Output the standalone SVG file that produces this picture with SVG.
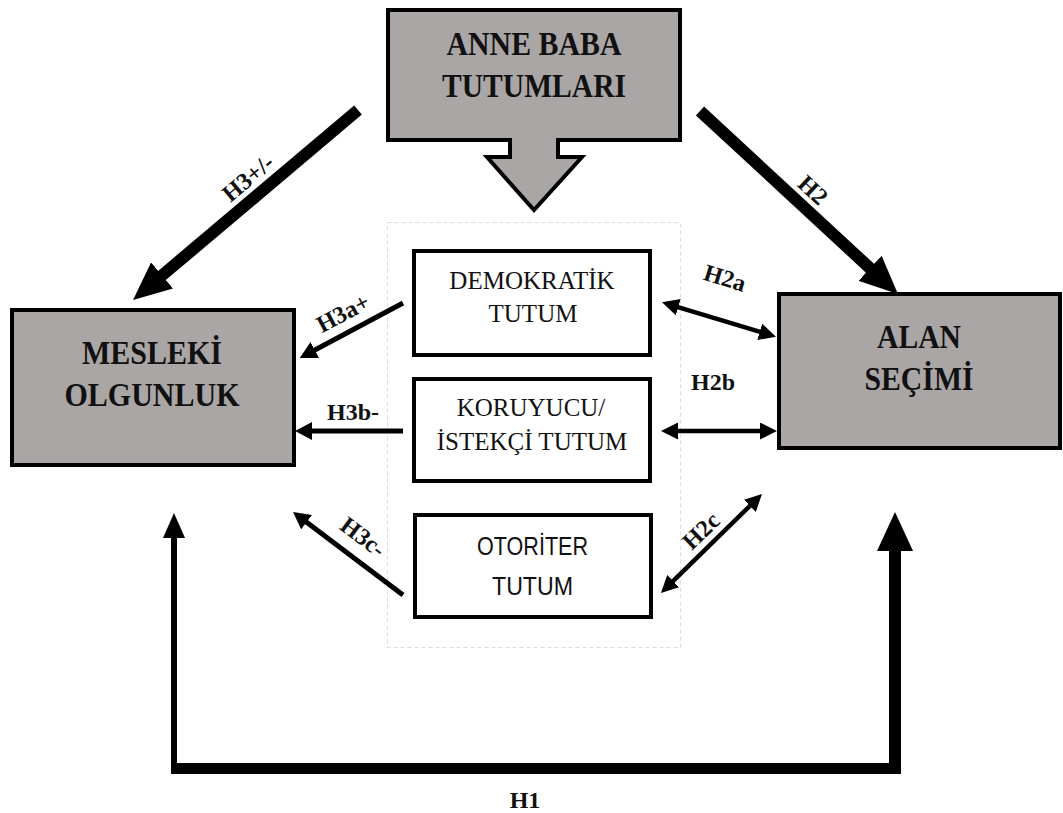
<svg xmlns="http://www.w3.org/2000/svg" width="1063" height="813" viewBox="0 0 1063 813">
<defs>
<style>
.main{fill:#a9a6a5;stroke:#000;stroke-width:4}
.sub{fill:#fff;stroke:#000;stroke-width:4}
.tb{font-family:"Liberation Serif","Times New Roman",serif;font-weight:bold;font-size:33px;fill:#111;text-anchor:middle}
.tr{font-family:"Liberation Serif","Times New Roman",serif;font-size:25px;fill:#111;text-anchor:middle}
.ts{font-family:"Liberation Sans",Arial,sans-serif;font-size:26px;fill:#111;text-anchor:middle}
.lb{font-family:"Liberation Serif","Times New Roman",serif;font-weight:bold;font-size:24px;fill:#111;text-anchor:middle}
.thick{stroke:#000;stroke-width:12;fill:none}
.med{stroke:#000;stroke-width:5;fill:none}
.dbl{stroke:#000;stroke-width:4.5;fill:none}
</style>
<marker id="hBig" markerUnits="userSpaceOnUse" viewBox="0 0 38 34" markerWidth="38" markerHeight="34" refX="4" refY="17" orient="auto"><path d="M0,0 L38,17 L0,34 z" fill="#000"/></marker>
<marker id="hMed" markerUnits="userSpaceOnUse" viewBox="0 0 17 18" markerWidth="17" markerHeight="18" refX="2" refY="9" orient="auto"><path d="M0,0 L17,9 L0,18 z" fill="#000"/></marker>
<marker id="hDbl" markerUnits="userSpaceOnUse" viewBox="0 0 17 17" markerWidth="17" markerHeight="17" refX="3" refY="8.5" orient="auto-start-reverse"><path d="M0,0 L17,8.5 L0,17 z" fill="#000"/></marker>
</defs>
<rect x="387.5" y="222.5" width="293" height="425" fill="none" stroke="#ddd" stroke-width="1" stroke-dasharray="4 3"/>
<g id="connectors">
<line class="thick" x1="358" y1="110" x2="159" y2="278" marker-end="url(#hBig)"/>
<line class="thick" x1="700" y1="111" x2="873" y2="271" marker-end="url(#hBig)"/>
<line class="med" x1="403" y1="303" x2="313" y2="351" marker-end="url(#hMed)"/>
<line class="med" x1="403" y1="431" x2="310" y2="431" marker-end="url(#hMed)"/>
<line class="med" x1="403" y1="595" x2="305" y2="521" marker-end="url(#hMed)"/>
<line class="dbl" x1="675.4" y1="306.3" x2="762.6" y2="332.7" marker-start="url(#hDbl)" marker-end="url(#hDbl)"/>
<line class="dbl" x1="675" y1="431" x2="763" y2="431" marker-start="url(#hDbl)" marker-end="url(#hDbl)"/>
<line class="dbl" x1="671" y1="583.2" x2="752" y2="503.8" marker-start="url(#hDbl)" marker-end="url(#hDbl)"/>
<line x1="174" y1="536" x2="174" y2="774" stroke="#000" stroke-width="6"/>
<rect x="171" y="763" width="730" height="11" fill="#000"/>
<line x1="895" y1="549" x2="895" y2="774" stroke="#000" stroke-width="12"/>
<polygon points="163,538 174,513 185,538" fill="#000"/>
<polygon points="877,551 895,512 913,551" fill="#000"/>
<text class="lb" transform="translate(248,178) rotate(-40)" dominant-baseline="central">H3+/-</text>
<text class="lb" transform="translate(813,190) rotate(43)" dominant-baseline="central">H2</text>
<text class="lb" transform="translate(343,313) rotate(-28)" dominant-baseline="central">H3a+</text>
<text class="lb" x="353" y="420">H3b-</text>
<text class="lb" transform="translate(363,537) rotate(37)" dominant-baseline="central">H3c-</text>
<text class="lb" transform="translate(725,278) rotate(17)" dominant-baseline="central">H2a</text>
<text class="lb" x="713" y="390">H2b</text>
<text class="lb" transform="translate(701,531) rotate(-44)" dominant-baseline="central">H2c</text>
<text class="lb" x="525" y="808">H1</text>
</g>
<g id="anne-baba">
<path class="main" d="M388,10 H680 V140 H558 V157 H582 L534,210 L487,157 H510 V140 H388 Z"/>
<text class="tb" x="534" y="55" textLength="175" lengthAdjust="spacingAndGlyphs">ANNE BABA</text>
<text class="tb" x="534" y="97" textLength="184" lengthAdjust="spacingAndGlyphs">TUTUMLARI</text>
</g>
<g id="mesleki">
<rect class="main" x="12" y="310" width="282" height="155"/>
<text class="tb" x="152" y="364" textLength="140" lengthAdjust="spacingAndGlyphs">MESLEKİ</text>
<text class="tb" x="152" y="406" textLength="175" lengthAdjust="spacingAndGlyphs">OLGUNLUK</text>
</g>
<g id="alan">
<rect class="main" x="779" y="294" width="281" height="154"/>
<text class="tb" x="919" y="348" textLength="84" lengthAdjust="spacingAndGlyphs">ALAN</text>
<text class="tb" x="919" y="390" textLength="109" lengthAdjust="spacingAndGlyphs">SEÇİMİ</text>
</g>
<g id="demokratik">
<rect class="sub" x="414" y="251" width="236" height="104"/>
<text class="tr" x="532" y="289">DEMOKRATİK</text>
<text class="tr" x="533" y="322">TUTUM</text>
</g>
<g id="koruyucu">
<rect class="sub" x="414" y="379" width="236" height="102"/>
<text class="tr" x="531" y="416">KORUYUCU/</text>
<text class="tr" x="532" y="450">İSTEKÇİ TUTUM</text>
</g>
<g id="otoriter">
<rect class="sub" x="415" y="515" width="236" height="102"/>
<text class="ts" x="532.5" y="555" textLength="111" lengthAdjust="spacingAndGlyphs">OTORİTER</text>
<text class="ts" x="532.5" y="595" textLength="81" lengthAdjust="spacingAndGlyphs">TUTUM</text>
</g>
</svg>
